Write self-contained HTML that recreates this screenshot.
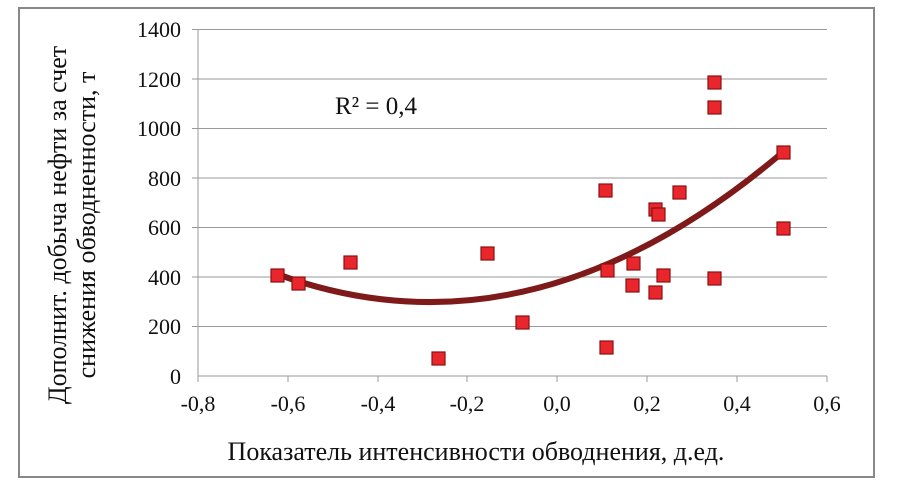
<!DOCTYPE html><html><head><style>body{margin:0;background:#fff}text{font-family:"Liberation Serif","DejaVu Serif",serif}</style></head><body>
<svg width="901" height="493" xmlns="http://www.w3.org/2000/svg" font-family="Liberation Serif, serif">
<rect x="19" y="8" width="855" height="469" fill="#fff" stroke="#888" stroke-width="2"/>
<g stroke="#999" stroke-width="1">
<line x1="192" y1="29.5" x2="827" y2="29.5"/><line x1="192" y1="79" x2="827" y2="79"/><line x1="192" y1="128.5" x2="827" y2="128.5"/><line x1="192" y1="178" x2="827" y2="178"/><line x1="192" y1="227.5" x2="827" y2="227.5"/><line x1="192" y1="277" x2="827" y2="277"/><line x1="192" y1="326.5" x2="827" y2="326.5"/>
<line x1="198" y1="29" x2="198" y2="376"/>
<line x1="198" y1="376" x2="827" y2="376"/>
<line x1="198" y1="376" x2="198" y2="382"/><line x1="288" y1="376" x2="288" y2="382"/><line x1="378" y1="376" x2="378" y2="382"/><line x1="467" y1="376" x2="467" y2="382"/><line x1="557" y1="376" x2="557" y2="382"/><line x1="647" y1="376" x2="647" y2="382"/><line x1="737" y1="376" x2="737" y2="382"/><line x1="827" y1="376" x2="827" y2="382"/>
</g>
<g font-size="22" text-anchor="end" fill="#111" font-family="Liberation Serif, serif">
<text x="181" y="37">1400</text><text x="181" y="87">1200</text><text x="181" y="136">1000</text><text x="181" y="186">800</text><text x="181" y="235">600</text><text x="181" y="285">400</text><text x="181" y="334">200</text><text x="181" y="384">0</text>
</g>
<g font-size="22" text-anchor="middle" fill="#111" font-family="Liberation Serif, serif">
<text x="198" y="411">-0,8</text><text x="288" y="411">-0,6</text><text x="378" y="411">-0,4</text><text x="467" y="411">-0,2</text><text x="557" y="411">0,0</text><text x="647" y="411">0,2</text><text x="737" y="411">0,4</text><text x="827" y="411">0,6</text>
</g>
<text x="476" y="460" font-size="26" text-anchor="middle" fill="#111" font-family="Liberation Serif, serif">Показатель интенсивности обводнения, д.ед.</text>
<g font-size="26" text-anchor="middle" fill="#111" font-family="Liberation Serif, serif">
<text transform="translate(66,225) rotate(-90)">Дополнит. добыча нефти за счет</text>
<text transform="translate(95,225) rotate(-90)">снижения обводненности, т</text>
</g>
<text x="335" y="114" font-size="25" fill="#111" font-family="Liberation Serif, serif">R² = 0,4</text>
<path d="M277,274 Q530,367 783,152" fill="none" stroke="#7f1a1a" stroke-width="6"/>
<g fill="#e8262b" stroke="#8b1010" stroke-width="1.2">
<rect x="271" y="269" width="13" height="13"/><rect x="292" y="277" width="13" height="13"/><rect x="344" y="256" width="13" height="13"/><rect x="481" y="247" width="13" height="13"/><rect x="432" y="352" width="13" height="13"/><rect x="516" y="316" width="13" height="13"/><rect x="599" y="184" width="13" height="13"/><rect x="601" y="264" width="13" height="13"/><rect x="600" y="341" width="13" height="13"/><rect x="649" y="203" width="13" height="13"/><rect x="652" y="208" width="13" height="13"/><rect x="627" y="257" width="13" height="13"/><rect x="626" y="279" width="13" height="13"/><rect x="673" y="186" width="13" height="13"/><rect x="649" y="286" width="13" height="13"/><rect x="657" y="269" width="13" height="13"/><rect x="708" y="101" width="13" height="13"/><rect x="708" y="76" width="13" height="13"/><rect x="708" y="272" width="13" height="13"/><rect x="777" y="146" width="13" height="13"/><rect x="777" y="222" width="13" height="13"/>
</g>
</svg></body></html>
